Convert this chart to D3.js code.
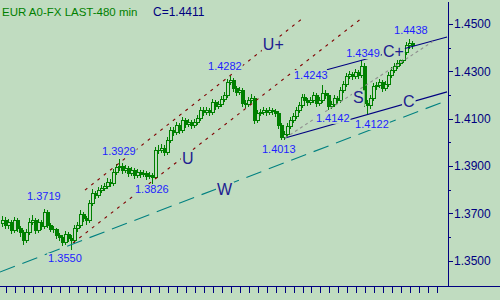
<!DOCTYPE html>
<html><head><meta charset="utf-8">
<script src="https://cdn.jsdelivr.net/npm/d3@7/dist/d3.min.js"></script>
<style>html,body{margin:0;padding:0;background:#c0dcc0;overflow:hidden}svg{display:block}</style>
</head><body>
<svg id="chart" width="500" height="300"></svg>
<script>
// ---------- data ----------
const title = "EUR A0-FX LAST-480 min";
const lastLabel = "C=1.4411";
const firstOpen = 1.3660;
const closes = [1.3672,1.3651,1.3663,1.3629,1.3672,1.3638,1.3621,1.3587,1.3621,1.3663,
1.3672,1.3629,1.3663,1.3646,1.3706,1.3651,1.3634,1.3634,1.3608,1.3600,
1.3579,1.3613,1.3596,1.3587,1.3638,1.3651,1.3697,1.3680,1.3672,1.3744,
1.3786,1.3777,1.3798,1.3807,1.3815,1.3832,1.3828,1.3875,1.3896,1.3900,
1.3883,1.3891,1.3870,1.3883,1.3862,1.3875,1.3866,1.3870,1.3858,1.3862,
1.3853,1.3968,1.3968,1.3976,1.3959,1.4010,1.4052,1.4044,1.4073,1.4052,
1.4094,1.4077,1.4086,1.4073,1.4086,1.4103,1.4137,1.4128,1.4137,1.4128,
1.4170,1.4153,1.4162,1.4183,1.4200,1.4255,1.4263,1.4230,1.4213,1.4221,
1.4166,1.4162,1.4179,1.4187,1.4094,1.4124,1.4128,1.4137,1.4128,1.4137,
1.4132,1.4124,1.4073,1.4022,1.4035,1.4069,1.4094,1.4111,1.4137,1.4158,
1.4192,1.4179,1.4170,1.4179,1.4200,1.4166,1.4179,1.4208,1.4200,1.4153,
1.4162,1.4187,1.4179,1.4221,1.4246,1.4280,1.4289,1.4280,1.4297,1.4284,
1.4323,1.4166,1.4158,1.4187,1.4238,1.4242,1.4255,1.4230,1.4246,1.4284,
1.4306,1.4323,1.4335,1.4348,1.4382,1.4411,1.4420,1.4411];
const highs = [1.3690,1.3684,1.3676,1.3670,1.3685,1.3680,1.3646,1.3630,1.3634,1.3680,
1.3693,1.3680,1.3676,1.3672,1.3719,1.3714,1.3659,1.3646,1.3640,1.3617,
1.3608,1.3625,1.3621,1.3608,1.3651,1.3663,1.3714,1.3706,1.3689,1.3756,
1.3803,1.3794,1.3811,1.3820,1.3828,1.3849,1.3845,1.3887,1.3908,1.3929,
1.3912,1.3904,1.3900,1.3896,1.3891,1.3887,1.3883,1.3883,1.3879,1.3875,
1.3870,1.3980,1.3989,1.3993,1.3989,1.4022,1.4065,1.4065,1.4086,1.4082,
1.4107,1.4103,1.4099,1.4094,1.4099,1.4116,1.4149,1.4149,1.4149,1.4145,
1.4183,1.4179,1.4175,1.4196,1.4213,1.4268,1.4282,1.4272,1.4238,1.4234,
1.4230,1.4179,1.4192,1.4204,1.4196,1.4137,1.4141,1.4149,1.4145,1.4149,
1.4145,1.4141,1.4132,1.4082,1.4048,1.4082,1.4107,1.4124,1.4149,1.4170,
1.4204,1.4204,1.4187,1.4192,1.4213,1.4209,1.4192,1.4243,1.4221,1.4209,
1.4175,1.4200,1.4196,1.4234,1.4259,1.4293,1.4301,1.4297,1.4310,1.4306,
1.4349,1.4335,1.4179,1.4200,1.4251,1.4255,1.4268,1.4263,1.4259,1.4297,
1.4318,1.4335,1.4348,1.4361,1.4395,1.4424,1.4438,1.4429];
const lows = [1.3648,1.3638,1.3640,1.3617,1.3620,1.3625,1.3604,1.3570,1.3579,1.3612,
1.3655,1.3616,1.3621,1.3634,1.3638,1.3642,1.3625,1.3621,1.3596,1.3587,
1.3566,1.3570,1.3583,1.3550,1.3579,1.3625,1.3642,1.3668,1.3655,1.3663,
1.3735,1.3765,1.3769,1.3790,1.3798,1.3807,1.3815,1.3820,1.3866,1.3883,
1.3870,1.3875,1.3858,1.3862,1.3849,1.3853,1.3853,1.3858,1.3845,1.3849,
1.3826,1.3849,1.3955,1.3959,1.3946,1.3951,1.4001,1.4031,1.4035,1.4039,
1.4044,1.4065,1.4069,1.4061,1.4065,1.4077,1.4094,1.4116,1.4120,1.4116,
1.4120,1.4141,1.4145,1.4153,1.4175,1.4192,1.4246,1.4217,1.4200,1.4204,
1.4153,1.4149,1.4153,1.4170,1.4082,1.4086,1.4116,1.4120,1.4116,1.4120,
1.4120,1.4111,1.4061,1.4013,1.4013,1.4027,1.4061,1.4086,1.4103,1.4128,
1.4149,1.4166,1.4158,1.4162,1.4170,1.4153,1.4158,1.4170,1.4187,1.4142,
1.4145,1.4153,1.4166,1.4170,1.4213,1.4238,1.4272,1.4268,1.4272,1.4272,
1.4276,1.4153,1.4122,1.4145,1.4179,1.4225,1.4234,1.4217,1.4221,1.4238,
1.4276,1.4297,1.4314,1.4327,1.4339,1.4373,1.4399,1.4399];
const yTickValues = [1.35,1.37,1.39,1.41,1.43,1.45];
const yMinorValues = [1.36,1.38,1.40,1.42,1.44];
// price annotations: [text, bar index (left edge), price (centre)]
const priceNotes = [
  ["1.4282",68.8,1.4323],["1.4438",130.9,1.4475],["1.4349",114.9,1.4377],
  ["1.4243",97.5,1.4284],["1.4142",104.8,1.4103],["1.4122",117.9,1.4077],
  ["1.4013",86.8,1.3972],["1.3929",33.4,1.3963],["1.3826",44.4,1.3801],
  ["1.3719",8.35,1.3773],["1.3550",15.4,1.3511]];
const waveNotes = [["U+",87.1,1.4415],["C+",127.2,1.4386],["S",117.2,1.4189],
  ["C",133.9,1.4175],["U",60.1,1.3932],["W",71.8,1.3803]];
// trend lines: [i1, p1, i2, p2, kind]
const trendLines = [
  [27.7,1.3798,100.5,1.4525,"red"],
  [23.7,1.3575,120.2,1.4525,"red"],
  [-0.7,1.3452,148.2,1.4175,"teal"],
  [108.5,1.4306,148.6,1.4445,"navy"],
  [94.5,1.4018,148.6,1.4213,"navy"],
  [94.5,1.4018,144.6,1.4432,"gray"]];

// ---------- drawing ----------
const BG = "#c0dcc0", GREEN = "#008000", NAVY = "#000080";
const svg = d3.select("#chart");
svg.append("rect").attr("width",500).attr("height",300).attr("fill",BG);

const step = 2.995;
const x = d3.scaleLinear().domain([0,150]).range([2, 2+150*step]);
const y = d3.scaleLinear().domain([1.3393,1.4601]).range([286,0]);

const bars = closes.map((c,i)=>{
  const o = i===0 ? firstOpen : closes[i-1];
  return {i,o,c,h:Math.max(highs[i],o,c),l:Math.min(lows[i],o,c)};
});

const defs = svg.append("defs");
defs.append("clipPath").attr("id","plot").append("rect").attr("x",0).attr("y",0).attr("width",448).attr("height",286);

const plot = svg.append("g").attr("clip-path","url(#plot)").attr("shape-rendering","crispEdges");
const g = plot.selectAll("g.bar").data(bars).join("g").attr("class","bar");
g.each(function(d){
  const s = d3.select(this);
  const cx = Math.round(x(d.i));
  const yh = Math.round(y(d.h)), yl = Math.round(y(d.l));
  const yt = Math.round(y(Math.max(d.o,d.c))), yb = Math.round(y(Math.min(d.o,d.c)));
  s.append("rect").attr("x",cx).attr("y",yh).attr("width",1).attr("height",Math.max(1,yl-yh+1)).attr("fill",GREEN);
  s.append("rect").attr("x",cx-1).attr("y",yt).attr("width",4).attr("height",Math.max(1,yb-yt+1)).attr("fill",GREEN);
  if (d.c > d.o && yb-yt >= 2) {
    s.append("rect").attr("x",cx).attr("y",yt+1).attr("width",2).attr("height",yb-yt-1).attr("fill",BG);
  }
});

const lineStyle = {
  red:{stroke:"#800000",dash:"3,5"},
  teal:{stroke:"#008080",dash:"16,8"},
  navy:{stroke:NAVY,dash:null},
  gray:{stroke:"#909090",dash:"3,3"}
};
const lg = svg.append("g").attr("clip-path","url(#plot)");
trendLines.forEach(t=>{
  const st = lineStyle[t[4]];
  lg.append("line").attr("x1",x(t[0])).attr("y1",y(t[1])).attr("x2",x(t[2])).attr("y2",y(t[3]))
    .attr("stroke",st.stroke).attr("stroke-width",1.1).attr("stroke-dasharray",st.dash);
});

function note(txt, i, p, size, color){
  const gg = svg.append("g");
  const r = gg.append("rect").attr("fill",BG);
  const t = gg.append("text").attr("x",x(i)).attr("y",y(p)).attr("dy","0.36em")
    .attr("font-family","'Liberation Sans', Arial, sans-serif").attr("font-size",size)
    .attr("fill",color).text(txt);
  const b = t.node().getBBox();
  r.attr("x",b.x-1).attr("y",b.y+1).attr("width",b.width+2).attr("height",b.height-1);
}
priceNotes.forEach(n=>note(n[0],n[1],n[2],11,"#1e1eff"));
waveNotes.forEach(n=>note(n[0],n[1],n[2],16,"#202090"));

// axes
const ax = svg.append("g").attr("shape-rendering","crispEdges");
ax.append("rect").attr("x",448).attr("y",2).attr("width",1).attr("height",285).attr("fill",NAVY);
ax.append("rect").attr("x",0).attr("y",286).attr("width",500).attr("height",1).attr("fill",NAVY);
const yAxis = d3.axisRight(y).tickValues(yTickValues).tickSize(4).tickPadding(1).tickFormat(d3.format(".4f"));
const ya = ax.append("g").attr("transform","translate(449,0)").call(yAxis);
ya.select(".domain").remove();
ya.selectAll("line").attr("stroke",NAVY);
ya.selectAll("text").attr("fill",NAVY).attr("font-size",12).attr("font-family","'Liberation Sans', Arial, sans-serif");
ax.selectAll("line.minor").data(yMinorValues).join("line").attr("class","minor")
  .attr("x1",449).attr("x2",451).attr("y1",d=>Math.round(y(d))+0.5).attr("y2",d=>Math.round(y(d))+0.5).attr("stroke",NAVY);
const xTicks = d3.range(0,49).map(k=>1.336+3*k);
const xAxis = d3.axisBottom(x).tickValues(xTicks).tickSize(6).tickFormat("");
const xa = ax.append("g").attr("transform","translate(0,287)").call(xAxis);
xa.select(".domain").remove();
xa.selectAll("line").attr("stroke",NAVY);

svg.append("text").attr("x",2).attr("y",16).attr("font-family","'Liberation Sans', Arial, sans-serif")
  .attr("font-size",11.5).attr("fill",GREEN).text(title);
svg.append("text").attr("x",153).attr("y",16).attr("font-family","'Liberation Sans', Arial, sans-serif")
  .attr("font-size",12).attr("fill",NAVY).text(lastLabel);
</script>
</body></html>
